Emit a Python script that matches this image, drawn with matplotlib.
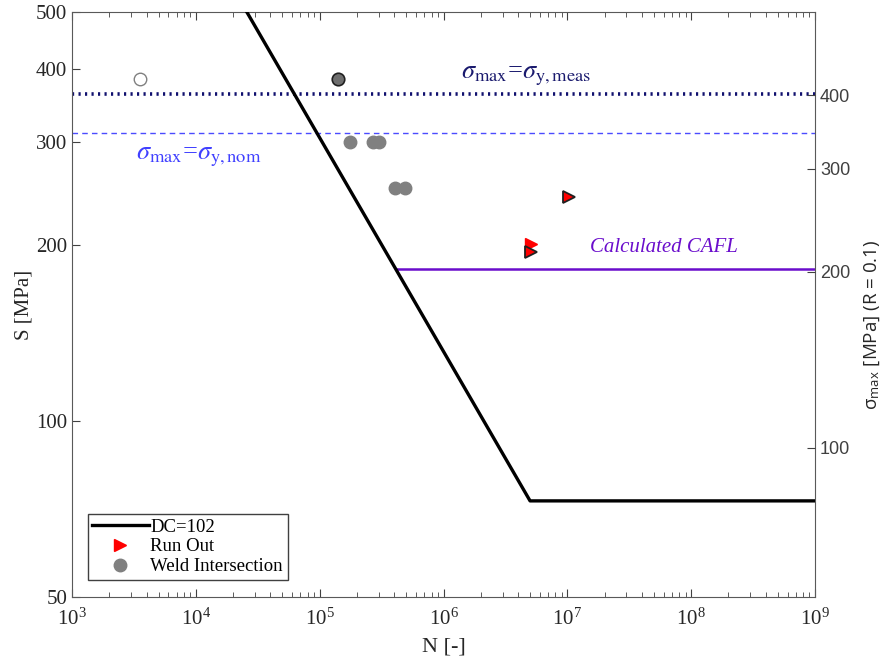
import matplotlib.pyplot as plt
from matplotlib.ticker import LogLocator, NullLocator, FixedLocator, NullFormatter, LogFormatterMathtext

plt.rcParams['mathtext.fontset'] = 'stix'
plt.rcParams['font.family'] = ['Liberation Serif', 'DejaVu Serif']

# S-N detail category curve DC=102
dc_N = [2.58e4, 5.0e6, 1.0e9]
dc_S = [500, 73, 73]

# calculated constant amplitude fatigue limit (left axis value)
cafl_N = [4.12e5, 1.0e9]
cafl_S = [181.6, 181.6]

# yield limits expressed on the S axis
s_y_meas = 362
s_y_nom = 310.5

# weld intersection failures
weld_N = [1.76e5, 2.70e5, 3.02e5, 4.06e5, 4.90e5]
weld_S = [300, 300, 300, 250, 250]
weld_open_N, weld_open_S = [3540], [384]
weld_dark_N, weld_dark_S = [1.41e5], [384]

# run outs
runout_N = [5.1e6]
runout_S = [201]
runout_edge_N = [1.03e7, 5.1e6]
runout_edge_S = [241, 194.5]

R = 0.1
xticks = [1e3, 1e4, 1e5, 1e6, 1e7, 1e8, 1e9]
yticks_left = [50, 100, 200, 300, 400, 500]
yticks_right = [100, 200, 300, 400]

axcol = '#404040'
fig = plt.figure(figsize=(8.88, 6.63), dpi=100)
ax = fig.add_axes([0.0811, 0.0995, 0.8367, 0.8824])

ax.axhline(s_y_meas, color='#10106e', lw=2.6, ls=(0, (0.6, 1.2)), zorder=1)
ax.axhline(s_y_nom, color='#4b4bff', lw=1.0, ls=(0, (4, 3)), zorder=1)
ax.plot(cafl_N, cafl_S, color='#6a0dcc', lw=1.8, zorder=2)
ax.plot(dc_N, dc_S, color='black', lw=2.4, label='DC=102', zorder=3)

ax.plot(runout_N, runout_S, ls='none', marker='>', ms=8, mfc='red', mec='red',
        label='Run Out', zorder=4)
ax.plot(runout_edge_N, runout_edge_S, ls='none', marker='>', ms=8, mfc='red',
        mec='#202020', mew=1.3, zorder=5)
ax.plot(weld_N, weld_S, ls='none', marker='o', ms=9, mfc='#808080', mec='#808080',
        label='Weld Intersection', zorder=4)
ax.plot(weld_open_N, weld_open_S, ls='none', marker='o', ms=9, mfc='white',
        mec='#808080', mew=1.0, zorder=4)
ax.plot(weld_dark_N, weld_dark_S, ls='none', marker='o', ms=9, mfc='#6e6e6e',
        mec='#202020', mew=1.2, zorder=4)

ax.text(4.6e6, 388, r'$\sigma_{\mathrm{max}}$=$\sigma_{\mathrm{y,meas}}$', color='#1a1a6e',
        fontsize=19, ha='center', va='center')
ax.text(1.05e4, 282, r'$\sigma_{\mathrm{max}}$=$\sigma_{\mathrm{y,nom}}$', color='#4040ff',
        fontsize=19, ha='center', va='center')
ax.text(6.0e7, 198, 'Calculated CAFL', color='#6a0dcc', fontsize=15, style='italic',
        ha='center', va='center')

ax.set_xscale('log')
ax.set_yscale('log')
ax.set_xlim(1e3, 1e9)
ax.set_ylim(50, 500)
ax.xaxis.set_major_locator(FixedLocator(xticks))
ax.xaxis.set_minor_locator(LogLocator(base=10, subs=range(2, 10), numticks=20))
ax.xaxis.set_minor_formatter(NullFormatter())
ax.xaxis.set_major_formatter(LogFormatterMathtext())
ax.yaxis.set_major_locator(FixedLocator(yticks_left))
ax.yaxis.set_minor_locator(NullLocator())
ax.set_yticklabels([str(v) for v in yticks_left])
ax.tick_params(which='both', direction='in', top=True, right=True, colors=axcol,
               labelsize=15, labelcolor='#262626')
ax.tick_params(which='major', length=6)
ax.tick_params(which='minor', length=3.5)
ax.tick_params(axis='x', pad=8)
for sp in ax.spines.values():
    sp.set_color('#595959')
ax.set_xlabel('N [-]', fontsize=16, color='#262626', labelpad=6)
ax.set_ylabel('S [MPa]', fontsize=15, color='#262626', labelpad=2)

leg = ax.legend(loc='lower left', bbox_to_anchor=(0.021, 0.029), fancybox=False,
                framealpha=1, edgecolor='#404040', fontsize=13.5, handlelength=3.0,
                handletextpad=0.1, borderpad=0.25, labelspacing=0.15, borderaxespad=0)
leg.get_frame().set_linewidth(1.0)

ax2 = ax.twinx()
ax2.set_yscale('log')
ax2.set_ylim(50 / (1 - R), 500 / (1 - R))
ax2.yaxis.set_major_locator(FixedLocator(yticks_right))
ax2.yaxis.set_minor_locator(NullLocator())
ax2.set_yticklabels([str(v) for v in yticks_right], family='Liberation Sans')
ax2.tick_params(direction='in', length=6, colors=axcol, labelsize=13, labelcolor='#404040')
for sp in ax2.spines.values():
    sp.set_visible(False)
ax2.set_ylabel('\u03c3$_{\\mathregular{max}}$ [MPa] (R = 0.1)', family='Open Sans',
               fontsize=13.5, color='#262626')
ax2.yaxis.set_label_coords(1.064, 0.465)

fig.savefig('out.png', dpi=100)
